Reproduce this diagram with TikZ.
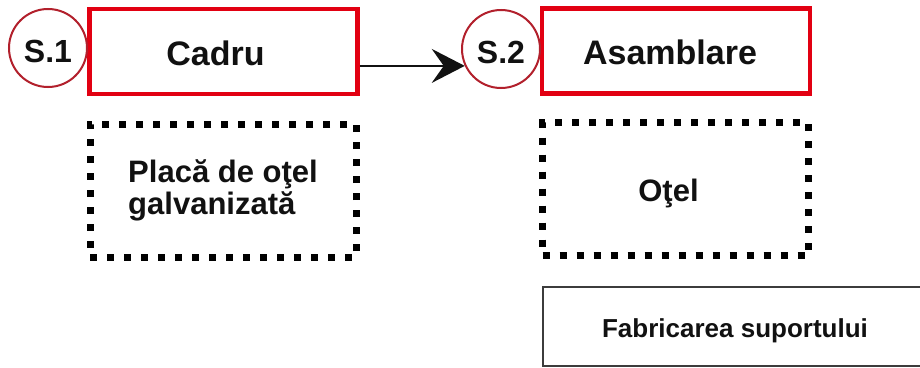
\documentclass[tikz,border=0pt]{standalone}
\usepackage{fontspec}
\setmainfont{Liberation Sans}
\usetikzlibrary{arrows.meta}
\definecolor{boxred}{RGB}{226,0,18}
\definecolor{ringred}{RGB}{178,32,44}
\definecolor{edgegray}{RGB}{60,60,60}
\definecolor{inktext}{RGB}{17,17,17}
% set a label lower by #2 and further left by half of #1, keeping its box size
\newcommand\setoff[3]{\raisebox{#2}[\height][\depth]{#3}\hspace*{#1}}
\tikzset{
  stepcircle/.style={circle, draw=ringred, line width=2pt, minimum size=78pt,
    inner sep=0pt, text=inktext, font=\bfseries\fontsize{32}{38}\selectfont},
  stagebox/.style={rectangle, draw=boxred, line width=4.5pt, minimum width=268pt,
    minimum height=85pt, inner sep=0pt, text=inktext,
    font=\bfseries\fontsize{34}{40}\selectfont},
  materialbox/.style={rectangle, draw=black, line width=7pt,
    dash pattern=on 7pt off 10pt, minimum width=266pt, minimum height=133pt,
    inner sep=0pt, text=inktext, font=\bfseries\fontsize{31}{32}\selectfont},
  notebox/.style={rectangle, draw=edgegray, line width=1.5pt, minimum width=384pt,
    minimum height=79pt, inner sep=0pt, text=inktext,
    font=\bfseries\fontsize{26}{30}\selectfont},
  flow/.style={draw=inktext, line width=1.5pt,
    -{Stealth[length=33pt, width=34pt, inset=12pt]}}
}
\begin{document}
\begin{tikzpicture}[x=1pt, y=-1pt]
  \useasboundingbox (0,0) rectangle (920,367);
  \clip (0,0) rectangle (920,367);
  \fill[white] (0,0) rectangle (920,367);

  % stage boxes with their step markers
  \node[stagebox] (cadru) at (223.5,51.5) {\setoff{16pt}{-2pt}{Cadru}};
  \node[stagebox] (asamblare) at (676,51) {\setoff{12pt}{-1pt}{Asamblare}};
  \node[stepcircle, fill=white] (s1) at (48,48) {\setoff{0pt}{-3pt}{S.1}};
  \node[stepcircle, fill=white] (s2) at (501,49) {\setoff{0pt}{-3pt}{S.2}};

  % materials used in each stage
  \node[materialbox, align=left] (placa) at (223,190.5) {Placă de oţel\\galvanizată};
  \node[materialbox] (otel) at (675.5,189) {\setoff{14pt}{-4pt}{Oţel}};

  % process note, running off the right and lower edges
  \node[notebox] (fabricare) at (735,326.5) {\setoff{0pt}{-4pt}{Fabricarea suportului}};

  % flow from the first stage to the second
  \draw[flow] (cadru.east |- s2.205) -- (s2.205);
\end{tikzpicture}
\end{document}
